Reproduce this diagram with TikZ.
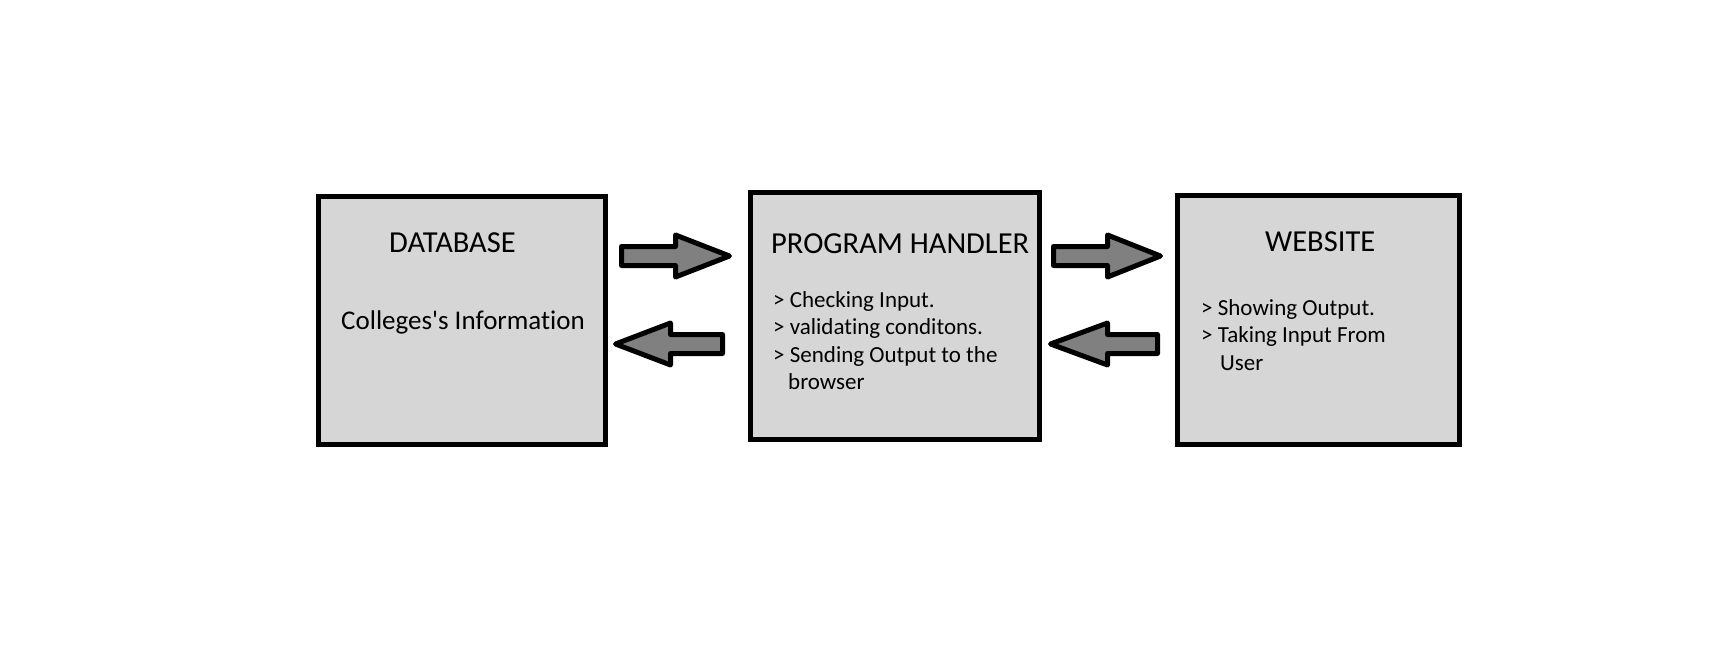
\documentclass[tikz,border=0pt]{standalone}
\usepackage{fontspec}
\setmainfont{Carlito}[Ligatures={NoCommon}]
\definecolor{boxgray}{HTML}{D6D6D6}
\definecolor{arrowgray}{HTML}{808080}
\tikzset{
  box/.style={draw=black, fill=boxgray, line width=5pt, rectangle, inner sep=0pt, outer sep=0pt, anchor=north west},
  blockarrow/.style={draw=black, fill=arrowgray, line width=5pt, line join=round},
  head/.style={inner sep=0pt, anchor=base west, font=\fontsize{30.5}{35}\selectfont},
  sub/.style={inner sep=0pt, anchor=base west, font=\fontsize{27}{31}\selectfont},
  item/.style={inner sep=0pt, anchor=base west, font=\fontsize{23}{27}\selectfont},
}
\newcommand{\rarrow}[4]{% left, tip, head base, cy
  \draw[blockarrow] (#1,#4-9.5) -- (#3,#4-9.5) -- (#3,#4-21) -- (#2,#4) -- (#3,#4+21) -- (#3,#4+9.5) -- (#1,#4+9.5) -- cycle;}
\newcommand{\larrow}[4]{% right, tip, head base, cy
  \draw[blockarrow] (#1,#4-9.5) -- (#3,#4-9.5) -- (#3,#4-21) -- (#2,#4) -- (#3,#4+21) -- (#3,#4+9.5) -- (#1,#4+9.5) -- cycle;}
\begin{document}
\begin{tikzpicture}[x=1pt,y=-1pt]
\useasboundingbox[fill=white] (0,0) rectangle (1714,648);
% boxes
\node[box, minimum width=287pt, minimum height=248pt] (db) at (318.5,196.5) {};
\node[box, minimum width=289pt, minimum height=247pt] (ph) at (750.5,192.5) {};
\node[box, minimum width=282pt, minimum height=249pt] (web) at (1177.5,195.5) {};
% texts
\node[head] (dbt) at (389,252.5) {DATABASE};
\node[sub] (dbs) at (341,329.5) {Colleges\textquotesingle s Information};
\node[head] (pht) at (771,253.5) {PROGRAM HANDLER};
\node[item] (ph1) at (773,307) {> Checking Input.};
\node[item] (ph2) at (773,334.5) {> validating conditons.};
\node[item] (ph3) at (773,362) {> Sending Output to the};
\node[item] (ph4) at (788,389.5) {browser};
\node[head] (webt) at (1265,251) {WEBSITE};
\node[item] (w1) at (1201,315) {> Showing Output.};
\node[item] (w2) at (1201,342.5) {> Taking Input From};
\node[item] (w3) at (1220,370) {User};
% arrows
\rarrow{621.5}{729.5}{675.5}{256}
\larrow{722.5}{615.5}{670.5}{344}
\rarrow{1053.5}{1160.5}{1107.5}{256}
\larrow{1157.5}{1050.5}{1107.5}{344}
\end{tikzpicture}
\end{document}
